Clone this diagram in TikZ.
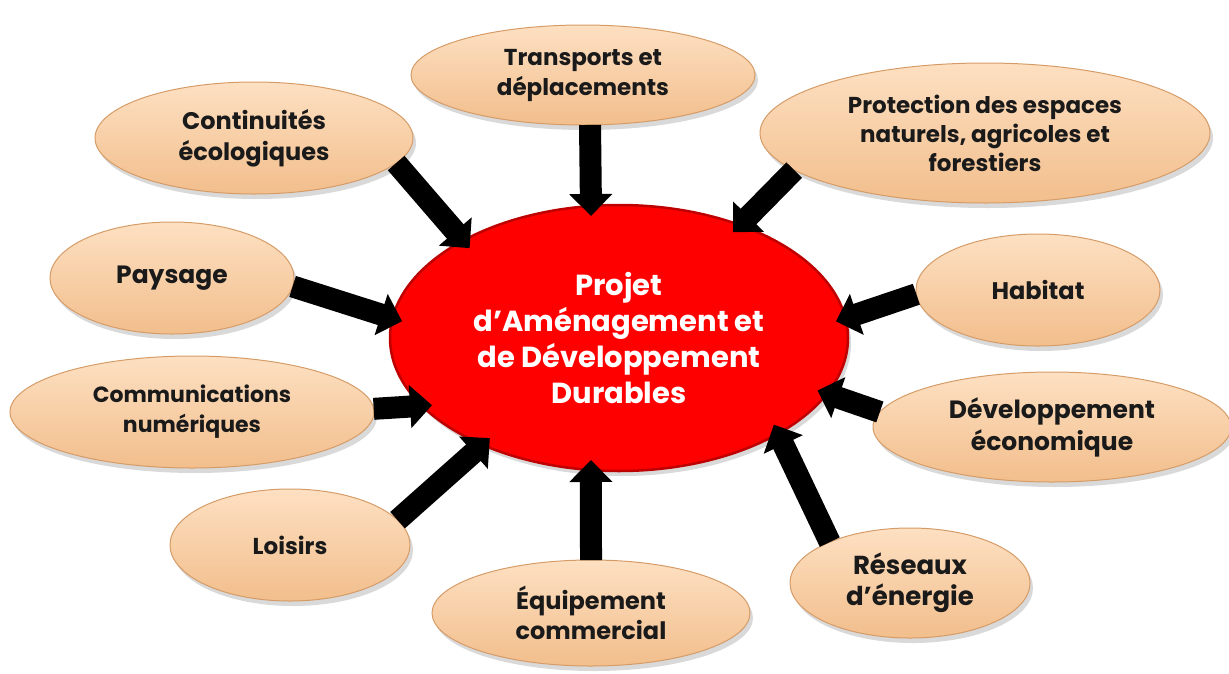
\documentclass[tikz,border=0pt]{standalone}
\usepackage{fontspec}
\setmainfont{Poppins}
\usetikzlibrary{shapes.geometric,shadows,arrows.meta}
\definecolor{peachtop}{RGB}{253,224,194}
\definecolor{peachbot}{RGB}{242,190,140}
\definecolor{peachedge}{RGB}{214,156,104}
\definecolor{redline}{RGB}{190,0,0}
\definecolor{textdark}{RGB}{26,26,26}
\tikzset{
	theme/.style={ellipse, draw=peachedge, line width=1pt, top color=peachtop, bottom color=peachbot,
		drop shadow={shadow xshift=3pt, shadow yshift=-5pt, opacity=0.3},
		inner sep=0pt, outer sep=0pt, align=center, text=textdark},
	centre/.style={ellipse, draw=redline, line width=2.5pt, fill=red,
		drop shadow={shadow xshift=3pt, shadow yshift=-5pt, opacity=0.3},
		inner sep=0pt, outer sep=0pt, align=center, text=white},
	fleche/.style={line width=22pt, -{Triangle[width=42pt,length=22pt]}, shorten >=-10pt}
}
\begin{document}
\begin{tikzpicture}[x=1pt,y=-1pt]
	\useasboundingbox (0,0) rectangle (1229,673);
	\node[centre, minimum width=458pt, minimum height=266pt, font=\bfseries\fontsize{29}{36}\selectfont] (proj) at (619,338) {Projet\\d’Aménagement et\\de Développement\\Durables};
	\node[theme, minimum width=318pt, minimum height=112pt, font=\bfseries\fontsize{24}{31}\selectfont] (cont) at (254,138) {Continuités\\écologiques};
	\node[theme, minimum width=344pt, minimum height=100pt, font=\bfseries\fontsize{23}{30}\selectfont] (trans) at (583,75) {Transports et\\déplacements};
	\node[theme, minimum width=450pt, minimum height=140pt, font=\bfseries\fontsize{23}{29}\selectfont] (prot) at (985,133) {Protection des espaces\\naturels, agricoles et\\forestiers};
	\node[theme, minimum width=244pt, minimum height=112pt, font=\bfseries\fontsize{25}{30}\selectfont] (pays) at (172,278) {Paysage};
	\node[theme, minimum width=244pt, minimum height=112pt, font=\bfseries\fontsize{24}{30}\selectfont] (hab) at (1038,290) {Habitat};
	\node[theme, minimum width=364pt, minimum height=112pt, font=\bfseries\fontsize{22}{30}\selectfont] (comm) at (192,412) {Communications\\numériques};
	\node[theme, minimum width=358pt, minimum height=110pt, font=\bfseries\fontsize{25}{32}\selectfont] (deco) at (1052,427) {Développement\\économique};
	\node[theme, minimum width=240pt, minimum height=112pt, font=\bfseries\fontsize{23}{30}\selectfont] (lois) at (290,545) {Loisirs};
	\node[theme, minimum width=318pt, minimum height=106pt, font=\bfseries\fontsize{24}{30}\selectfont] (equip) at (591,613) {Équipement\\commercial};
	\node[theme, minimum width=240pt, minimum height=110pt, font=\bfseries\fontsize{26}{31}\selectfont] (res) at (910,583) {Réseaux\\d’énergie};

	\draw[fleche] (cont.-10) -- (proj.148);
	\draw[fleche] (trans.-82) -- (proj.102);
	\draw[fleche] (prot.191) -- (proj.43);
	\draw[fleche] (pays.-4) -- (proj.175);
	\draw[fleche] (hab.182) -- (proj.5);
	\draw[fleche] (comm.1) -- (proj.199);
	\draw[fleche] (deco.175) -- (proj.-15);
	\draw[fleche] (lois.13) -- (proj.218);
	\draw[fleche] (equip.90) -- (proj.258);
	\draw[fleche] (res.153) -- (proj.-31);
\end{tikzpicture}
\end{document}
